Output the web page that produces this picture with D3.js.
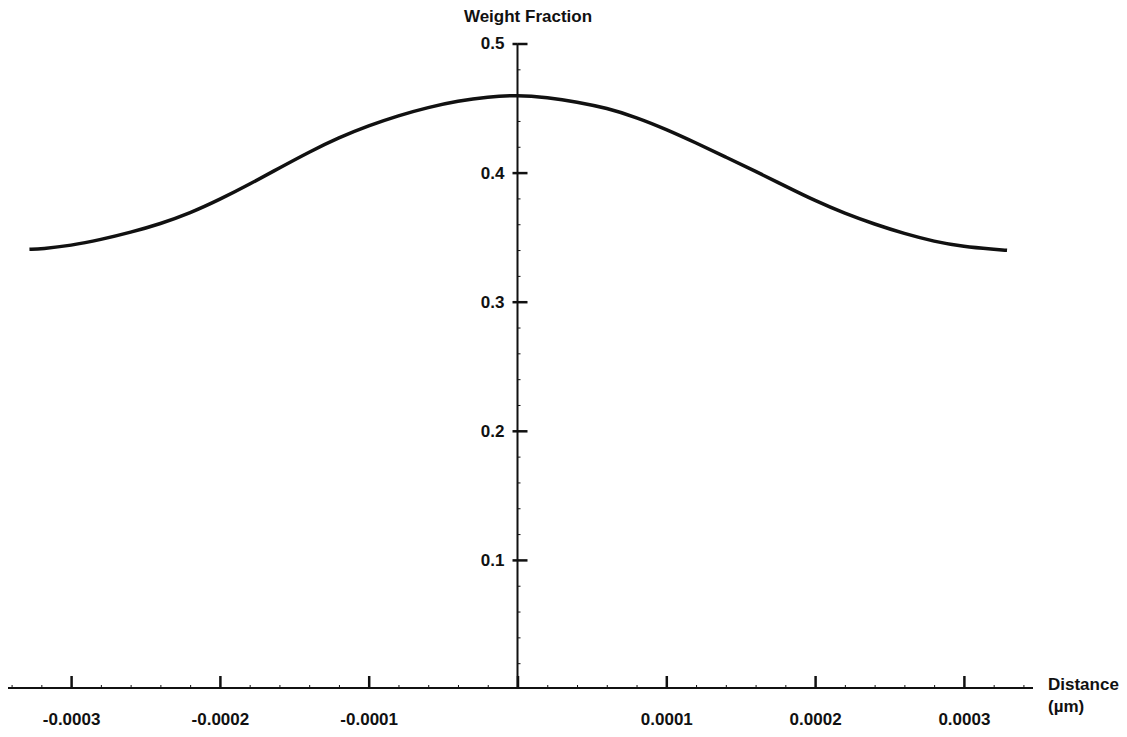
<!DOCTYPE html>
<html>
<head>
<meta charset="utf-8">
<script src="https://cdn.jsdelivr.net/npm/d3@7"></script>
<style>
  body { margin: 0; background: #fff; }
  svg text { font-family: "Liberation Sans", Arial, sans-serif; font-weight: bold; fill: #111; }
</style>
</head>
<body>
<svg id="graph" width="1127" height="737"></svg>
<script>
// distance (um)
var distance = [-0.000328, -0.00032, -0.0003, -0.00028, -0.00026, -0.00024, -0.00022, -0.0002,
  -0.00018, -0.00016, -0.00014, -0.00012, -0.0001, -0.00008, -0.00006, -0.00004, -0.00002, 0,
  0.00002, 0.00004, 0.00006, 0.00008, 0.0001, 0.00012, 0.00014, 0.00016, 0.00018, 0.0002,
  0.00022, 0.00024, 0.00026, 0.00028, 0.0003, 0.00032, 0.000329];
var weightFraction = [0.3406, 0.3409, 0.3435, 0.3481, 0.3537, 0.3603, 0.3686, 0.3792,
  0.3910, 0.4036, 0.4160, 0.4272, 0.4364, 0.4442, 0.4506, 0.4555, 0.4587, 0.4601,
  0.4582, 0.4548, 0.4500, 0.4428, 0.4335, 0.4230, 0.4120, 0.4010, 0.3895, 0.3782,
  0.3683, 0.3600, 0.3527, 0.3466, 0.3426, 0.3406, 0.3398];

var xTicks = [-0.0003, -0.0002, -0.0001, 0, 0.0001, 0.0002, 0.0003];
var xTickLabels = ["-0.0003", "-0.0002", "-0.0001", "", "0.0001", "0.0002", "0.0003"];
var yTicks = [0.1, 0.2, 0.3, 0.4, 0.5];
var yTickLabels = ["0.1", "0.2", "0.3", "0.4", "0.5"];

var svg = d3.select("#graph");

var x = d3.scaleLinear().domain([-0.0001, 0.0001]).range([368.7, 666.3]);
var y = d3.scaleLinear().domain([0, 0.5]).range([689, 43.5]);

var axisY = 688;
var originX = x(0);

// minor tick positions
var xMinor = d3.range(-17, 18).map(function(i) { return i * 0.00002; });
var yMinor = d3.range(1, 25).map(function(i) { return i * 0.02; });

var styleText = function(sel) {
  sel.attr("font-size", "17px")
    .attr("font-family", "Liberation Sans, Arial, sans-serif")
    .attr("font-weight", "bold")
    .attr("fill", "#111");
}

// x axis: minor ticks
svg.append("g")
  .attr("transform", "translate(0," + axisY + ")")
  .call(d3.axisTop(x).tickValues(xMinor).tickSize(3).tickFormat(""))
  .call(function(g) { g.select(".domain").remove(); })
  .selectAll("line").attr("stroke", "#111").attr("stroke-width", 1);

// x axis: major ticks
svg.append("g")
  .attr("transform", "translate(0," + axisY + ")")
  .call(d3.axisTop(x).tickValues(xTicks).tickSize(12).tickFormat(""))
  .call(function(g) { g.select(".domain").remove(); })
  .selectAll("line").attr("stroke", "#111").attr("stroke-width", 2.5);

// x labels
svg.append("g")
  .attr("transform", "translate(0," + axisY + ")")
  .call(d3.axisBottom(x).tickValues(xTicks).tickSize(0).tickPadding(25)
    .tickFormat(function(d, i) { return xTickLabels[i]; }))
  .call(function(g) { g.select(".domain").remove(); })
  .selectAll("text")
  .call(styleText);

// x axis line
svg.append("line")
  .attr("x1", 8).attr("x2", 1033)
  .attr("y1", axisY).attr("y2", axisY)
  .attr("stroke", "#111").attr("stroke-width", 2);

// y axis: minor ticks on the right
svg.append("g")
  .attr("transform", "translate(" + originX + ",0)")
  .call(d3.axisRight(y).tickValues(yMinor).tickSize(3).tickFormat(""))
  .call(function(g) { g.select(".domain").remove(); })
  .selectAll("line").attr("stroke", "#111").attr("stroke-width", 1);

// y axis: major ticks cross the axis
svg.append("g")
  .attr("transform", "translate(" + originX + ",0)")
  .call(d3.axisRight(y).tickValues(yTicks).tickSize(10).tickFormat(""))
  .call(function(g) { g.select(".domain").remove(); })
  .selectAll("line").attr("stroke", "#111").attr("stroke-width", 2.5);

svg.append("g")
  .attr("transform", "translate(" + originX + ",0)")
  .call(d3.axisLeft(y).tickValues(yTicks).tickSize(5).tickPadding(8)
    .tickFormat(function(d, i) { return yTickLabels[i]; }))
  .call(function(g) { g.select(".domain").remove(); })
  .call(function(g) { g.selectAll("line").attr("stroke", "#111").attr("stroke-width", 2.5); })
  .selectAll("text")
  .call(styleText);

// y axis line
svg.append("line")
  .attr("x1", originX).attr("x2", originX)
  .attr("y1", y(0.5)).attr("y2", axisY)
  .attr("stroke", "#111").attr("stroke-width", 2);

// axis titles
svg.append("text")
  .attr("x", 528)
  .attr("y", 22)
  .attr("text-anchor", "middle")
  .call(styleText)
  .text("Weight Fraction");

svg.append("text")
  .attr("x", 1048)
  .attr("y", 690)
  .call(styleText)
  .text("Distance");

svg.append("text")
  .attr("x", 1048)
  .attr("y", 712)
  .call(styleText)
  .text("(\u00b5m)");

// profile curve
var line = d3.line()
  .x(function(d, i) { return x(distance[i]); })
  .y(function(d) { return y(d); })
  .curve(d3.curveBasis);

svg.append("path")
  .datum(weightFraction)
  .attr("d", line)
  .attr("fill", "none")
  .attr("stroke", "#111")
  .attr("stroke-width", 3.5);
</script>
</body>
</html>
